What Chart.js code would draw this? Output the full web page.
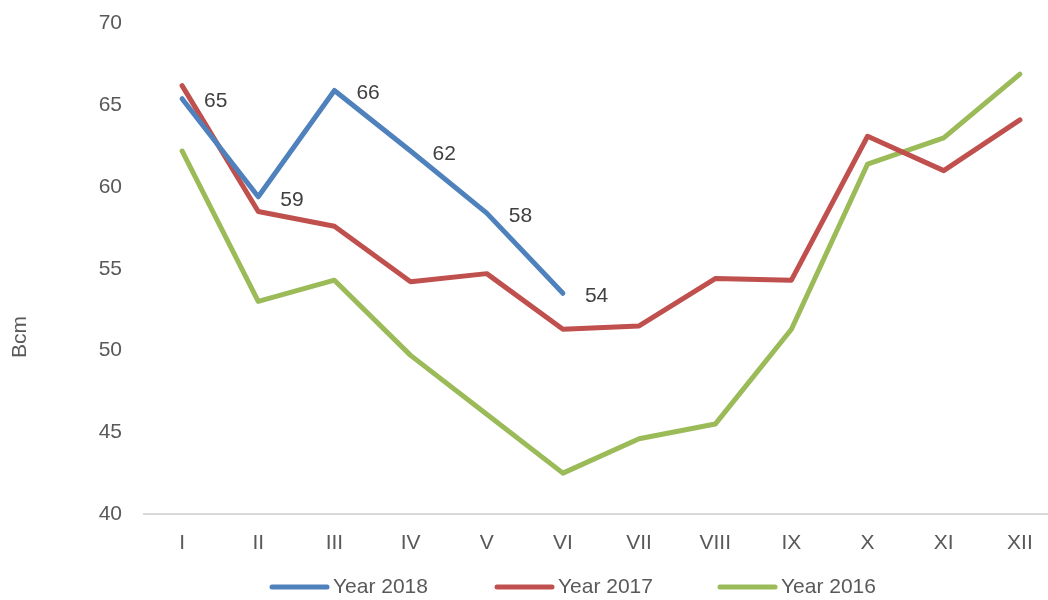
<!DOCTYPE html>
<html>
<head>
<meta charset="utf-8">
<script src="https://cdn.jsdelivr.net/npm/chart.js@4"></script>
<style>
  body { margin: 0; overflow: hidden; background: #fff; }
  #wrap { width: 1048px; height: 600px; overflow: hidden; }
</style>
</head>
<body>
<div id="wrap"><canvas id="chart" width="1058" height="600"></canvas></div>
<script>
// months as roman numerals
const months = ["I", "II", "III", "IV", "V", "VI", "VII", "VIII", "IX", "X", "XI", "XII"];

// values (Bcm)
const year2018 = [65.4, 59.4, 65.9, 62.2, 58.4, 53.5];
const year2017 = [66.2, 58.5, 57.6, 54.2, 54.7, 51.3, 51.5, 54.4, 54.3, 63.1, 61.0, 64.1];
const year2016 = [62.2, 53.0, 54.3, 49.7, 46.1, 42.5, 44.6, 45.5, 51.3, 61.4, 63.0, 66.9];

const yTicks = [40, 45, 50, 55, 60, 65, 70];

const FONT = "'Liberation Sans', Arial, sans-serif";
const FSIZE = 21;
const GREY = "#595959";

// labels next to 2018 points
const pointLabels = {
  id: "pointLabels",
  afterDatasetsDraw(chart) {
    const ctx = chart.ctx;
    const meta = chart.getDatasetMeta(0);
    ctx.save();
    ctx.font = FSIZE + "px " + FONT;
    ctx.fillStyle = "#404040";
    ctx.textAlign = "left";
    ctx.textBaseline = "middle";
    meta.data.forEach((pt, i) => {
      ctx.fillText(Math.round(year2018[i]), pt.x + 22, pt.y + 3);
    });
    ctx.restore();
  }
};

// axis title and legend drawn by hand so they sit where the original ones are
const extras = {
  id: "extras",
  afterDraw(chart) {
    const ctx = chart.ctx;
    ctx.save();
    ctx.font = FSIZE + "px " + FONT;
    ctx.fillStyle = GREY;
    ctx.textAlign = "center";
    ctx.textBaseline = "middle";
    ctx.translate(20, 337);
    ctx.rotate(-Math.PI / 2);
    ctx.fillText("Bcm", 0, 0);
    ctx.restore();

    const startX = [272, 497, 720];
    const y = 587;
    ctx.save();
    ctx.font = FSIZE + "px " + FONT;
    ctx.textBaseline = "middle";
    chart.data.datasets.forEach((ds, i) => {
      ctx.strokeStyle = ds.borderColor;
      ctx.lineWidth = 5;
      ctx.lineCap = "round";
      ctx.beginPath();
      ctx.moveTo(startX[i], y);
      ctx.lineTo(startX[i] + 55, y);
      ctx.stroke();
      ctx.fillStyle = GREY;
      ctx.fillText(ds.label, startX[i] + 61, y);
    });
    ctx.restore();
  }
};

new Chart(document.getElementById("chart"), {
  type: "line",
  data: {
    labels: months,
    datasets: [
      { label: "Year 2018", data: year2018, borderColor: "#4f81bd" },
      { label: "Year 2017", data: year2017, borderColor: "#c0504d" },
      { label: "Year 2016", data: year2016, borderColor: "#9bbb59" }
    ]
  },
  options: {
    responsive: false,
    animation: false,
    layout: { padding: { top: 22, bottom: 36, right: 0, left: 0 } },
    elements: {
      line: { borderWidth: 5, tension: 0, borderCapStyle: "round", borderJoinStyle: "round" },
      point: { radius: 0, hoverRadius: 0 }
    },
    plugins: {
      legend: { display: false },
      tooltip: { enabled: false }
    },
    scales: {
      x: {
        offset: true,
        grid: { display: false },
        border: { color: "#d9d9d9", width: 2 },
        ticks: { color: GREY, font: { family: FONT, size: FSIZE }, padding: 9, maxRotation: 0 },
        afterFit(scale) { scale.height = 50; }
      },
      y: {
        min: 40,
        max: 70,
        afterBuildTicks(scale) { scale.ticks = yTicks.map(v => ({ value: v })); },
        grid: { display: false },
        border: { display: false },
        ticks: { color: GREY, font: { family: FONT, size: FSIZE, lineHeight: 0.9 }, padding: 14 },
        afterFit(scale) { scale.width = 144; }
      }
    }
  },
  plugins: [pointLabels, extras]
});
</script>
</body>
</html>
